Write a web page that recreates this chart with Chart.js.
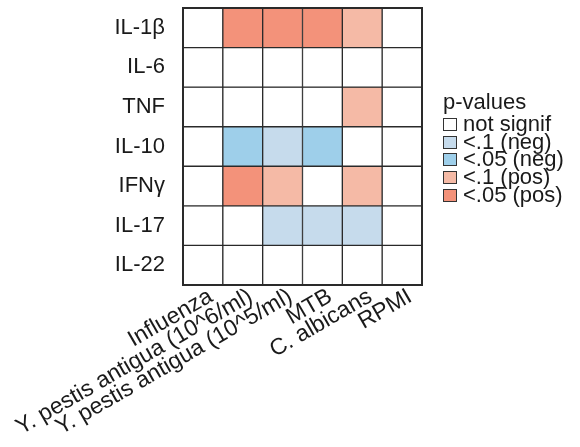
<!DOCTYPE html>
<html>
<head>
<meta charset="utf-8">
<script src="https://cdn.jsdelivr.net/npm/chart.js@4.4.0/dist/chart.umd.min.js"></script>
<style>
    html, body { margin: 0; padding: 0; background: #fff; }
    #wrap { position: relative; width: 580px; height: 447px; }
    #legend {
        position: absolute; left: 443px; top: 93px;
        font-family: "Liberation Sans", Arial, sans-serif; font-size: 22px; color: #1a1a1a;
    }
    #legend .title { line-height: 18px; height: 22px; }
    #legend .item { height: 17.7px; line-height: 17.7px; white-space: nowrap; }
    #legend .box {
        display: inline-block; width: 12px; height: 11px; border: 1px solid #333;
        margin-right: 6px; vertical-align: top; margin-top: 3px;
    }
</style>
</head>
<body>
<div id="wrap">
    <canvas id="heat" width="580" height="447"></canvas>
    <div id="legend"></div>
</div>
<script>
// ### DATA ###
const rowLabels = ['IL-1β', 'IL-6', 'TNF', 'IL-10', 'IFNγ', 'IL-17', 'IL-22'];
const colLabels = ['Influenza', 'Y. pestis antigua (10^6/ml)', 'Y. pestis antigua (10^5/ml)', 'MTB', 'C. albicans', 'RPMI'];
const levelLabels = ['not signif', '<.1 (neg)', '<.05 (neg)', '<.1 (pos)', '<.05 (pos)'];
const levelColors = ['#FFFFFF', '#C6DBEC', '#9ECFEA', '#F5BAA6', '#F3927A'];

// p-value class per stimulus (0 = not signif ... 4 = <.05 pos)
const il1b = [0, 4, 4, 4, 3, 0];
const il6  = [0, 0, 0, 0, 0, 0];
const tnf  = [0, 0, 0, 0, 3, 0];
const il10 = [0, 2, 1, 2, 0, 0];
const ifng = [0, 4, 3, 0, 3, 0];
const il17 = [0, 0, 1, 1, 1, 0];
const il22 = [0, 0, 0, 0, 0, 0];
const rowCodes = [il1b, il6, tnf, il10, ifng, il17, il22];

const fontFamily = '"Liberation Sans", Arial, sans-serif';
const textColor = '#1a1a1a';
const lineColor = '#2a2a2a';

// one stacked dataset per cytokine, each cell is one unit tall
const datasets = rowCodes.map((codes, i) => ({
    label: rowLabels[i],
    data: codes.map(() => 1),
    backgroundColor: codes.map(c => levelColors[c]),
    borderColor: lineColor,
    borderWidth: 1,
    borderSkipped: false,
    barPercentage: 1,
    categoryPercentage: 1
}));

// outer frame so the edge is as heavy as the inner lines
const frame = {
    id: 'frame',
    afterDatasetsDraw(chart) {
        const a = chart.chartArea;
        const ctx = chart.ctx;
        ctx.save();
        ctx.strokeStyle = lineColor;
        ctx.lineWidth = 2;
        ctx.strokeRect(a.left, a.top, a.right - a.left, a.bottom - a.top);
        ctx.restore();
    }
};

new Chart(document.getElementById('heat'), {
    type: 'bar',
    data: { labels: colLabels, datasets: datasets },
    options: {
        responsive: false,
        animation: false,
        layout: { padding: { top: 8, right: 158, left: 0, bottom: 0 } },
        plugins: { legend: { display: false }, tooltip: { enabled: false } },
        scales: {
            x: {
                stacked: true,
                grid: { display: false },
                border: { display: false },
                ticks: {
                    autoSkip: false, minRotation: 30, maxRotation: 30,
                    padding: -10, labelOffset: 8,
                    font: { family: fontFamily, size: 23 }, color: textColor
                },
                afterFit: s => { s.height = 162; s.paddingLeft = 0; s.paddingRight = 0; }
            },
            y: {
                stacked: true,
                min: 0,
                max: rowLabels.length,
                reverse: true,
                grid: { display: false },
                border: { display: false },
                afterBuildTicks: s => { s.ticks = rowLabels.map((_, i) => ({ value: i + 0.5 })); },
                ticks: {
                    callback: (v, i) => rowLabels[i], padding: 10,
                    font: { family: fontFamily, size: 22 }, color: textColor
                },
                afterFit: s => { s.width = 183; s.paddingTop = 0; s.paddingBottom = 0; }
            }
        }
    },
    plugins: [frame]
});

// ### LEGEND ###
const legend = document.getElementById('legend');
legend.innerHTML = '<div class="title">p-values</div>' + levelLabels.map((l, i) =>
    `<div class="item"><span class="box" style="background:${levelColors[i]}"></span>${l.replace('<', '&lt;')}</div>`
).join('');
</script>
</body>
</html>
